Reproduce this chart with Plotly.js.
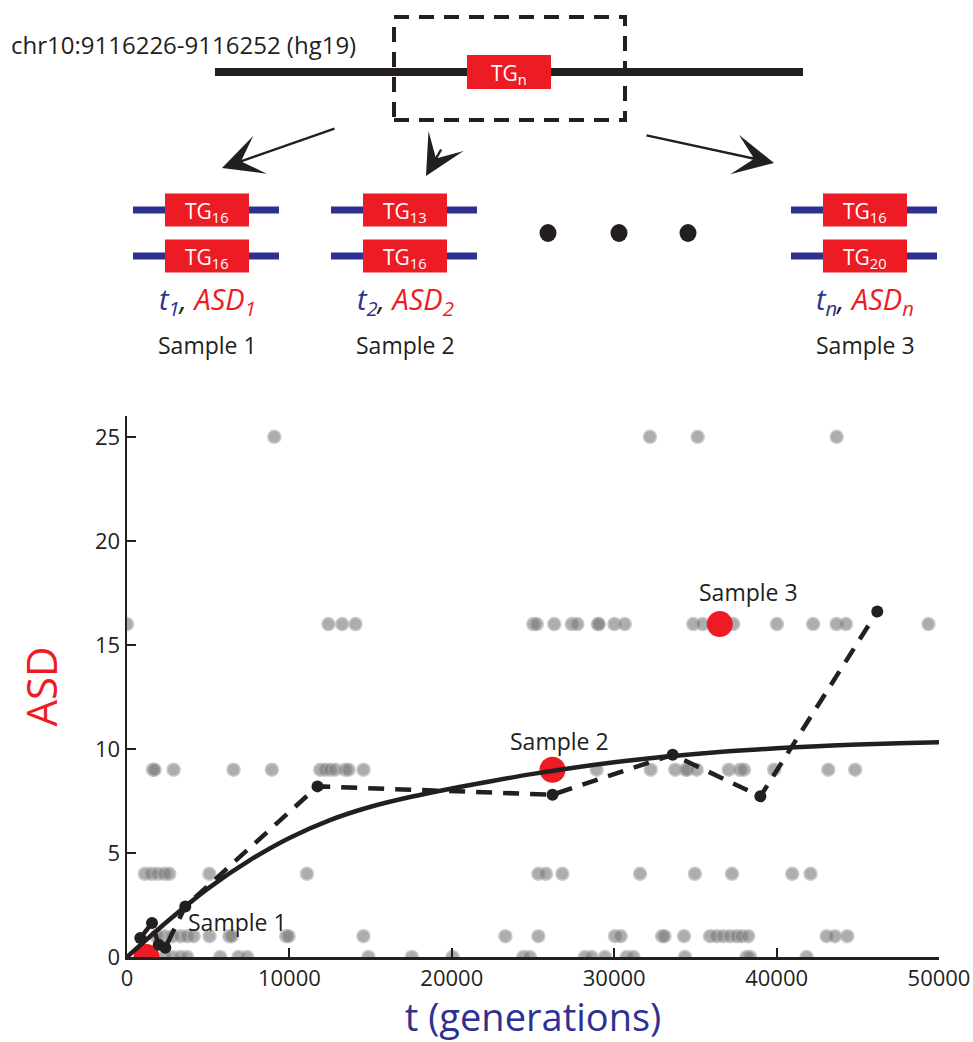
<!DOCTYPE html>
<html>
<head>
<meta charset="utf-8">
<script src="https://cdn.plot.ly/plotly-3.0.1.min.js"></script>
<style>html,body{margin:0;padding:0;background:#fff;}#chart{width:973px;height:1042px;}</style>
</head>
<body>
<div id="chart"></div>
<script>
// ---------------- data ----------------
const xTickVals = [0, 10000, 20000, 30000, 40000, 50000];
const yTickVals = [0, 5, 10, 15, 20, 25];

// observed samples (gray), grouped by ASD level
const asdLevels = [0, 1, 4, 9, 16, 25];
const tAtASD0 = [2300, 2800, 3300, 3700, 5740, 6870, 7390, 14870, 17540, 20050, 24400, 24800, 28200, 28610, 29430, 30770, 31180, 34360, 38150, 38360, 41850];
const tAtASD1 = [1800, 2300, 2800, 3300, 3700, 4100, 5080, 6300, 6450, 9800, 9950, 14560, 23300, 25330, 30050, 30400, 32950, 33100, 34300, 35900, 36300, 36700, 37130, 37540, 37850, 38250, 43080, 43590, 44350];
const tAtASD4 = [1100, 1500, 1900, 2300, 2600, 5070, 11080, 25330, 25800, 26810, 31590, 34970, 37250, 40960, 42090];
const tAtASD9 = [1600, 1700, 2870, 6560, 8920, 11900, 12200, 12510, 12820, 13430, 13640, 14560, 28920, 32250, 33760, 34400, 34500, 35080, 37050, 37740, 37990, 39850, 43180, 44840];
const tAtASD16 = [0, 12400, 13250, 14070, 25020, 25230, 26310, 27390, 27730, 29000, 29050, 30010, 30650, 34870, 35450, 37330, 40020, 42250, 43690, 44270, 49350];
const tAtASD25 = [9070, 32200, 35140, 43700];

// fitted curve (solid)
const fitT   = [0, 2500, 5000, 7500, 10000, 12500, 15000, 17500, 20000, 22500, 25000, 27500, 30000, 32500, 35000, 37500, 40000, 42500, 45000, 47500, 50000];
const fitASD = [0, 1.72, 3.3, 4.62, 5.72, 6.58, 7.22, 7.7, 8.1, 8.46, 8.8, 9.1, 9.36, 9.58, 9.76, 9.91, 10.03, 10.13, 10.21, 10.27, 10.32];

// binned means (dashed with dots)
const binT   = [820, 1540, 1950, 2360, 3590, 11730, 26200, 33600, 39000, 46200];
const binASD = [0.91, 1.63, 0.59, 0.45, 2.43, 8.2, 7.8, 9.72, 7.72, 16.6];

// highlighted samples
const sampleLabels = ['Sample 1', 'Sample 2', 'Sample 3'];
const sampleT   = [1200, 26200, 36500];
const sampleASD = [0, 9, 16];

// schematic genotypes
const sampleAlleles = [['16', '16'], ['13', '16'], ['16', '20']];
const sampleSubs = ['1', '2', 'n'];
const locusLabel = 'chr10:9116226-9116252 (hg19)';

// ---------------- build ----------------
const INK = '#231f20', RED = '#ed1c24', BLUE = '#2e3192';
const FONT = 'Open Sans, sans-serif';
const ML = 127, MR = 34, MT = 416, MB = 85, W = 973, H = 1042;
const PW = W - ML - MR, PH = H - MT - MB;
const P = px => (px - ML) / PW;           // pixel x -> paper x
const Q = py => (H - MB - py) / PH;       // pixel y -> paper y

const grayT = [], grayA = [];
const groups = [tAtASD0, tAtASD1, tAtASD4, tAtASD9, tAtASD16, tAtASD25];
groups.forEach((arr, i) => arr.forEach(t => { grayT.push(t); grayA.push(asdLevels[i]); }));

const traces = [
  { x: grayT, y: grayA, type: 'scatter', mode: 'markers', hoverinfo: 'skip',
    marker: { size: 13, color: '#77787b', opacity: 0.6, line: { color: '#a7a9ac', width: 1.5 } } },
  { x: sampleT, y: sampleASD, type: 'scatter', mode: 'markers',
    marker: { size: 26, color: RED, line: { width: 0 } } },
  { x: fitT, y: fitASD, type: 'scatter', mode: 'lines',
    line: { color: INK, width: 4.5, shape: 'spline', smoothing: 1 } },
  { x: binT, y: binASD, type: 'scatter', mode: 'lines+markers',
    line: { color: INK, width: 4.5, dash: '16px,11px' },
    marker: { size: 12, color: INK } }
];

const shapes = [];
const annotations = [];
const txt = (px, py, text, size, color, extra) => Object.assign({
  xref: 'paper', yref: 'paper', x: P(px), y: Q(py), text: text, showarrow: false,
  xanchor: 'center', yanchor: 'middle', font: { family: FONT, size: size, color: color }
}, extra || {});

// main locus line and TGn box
shapes.push({ type: 'line', xref: 'paper', yref: 'paper', x0: P(215), x1: P(803), y0: Q(72), y1: Q(72), line: { color: INK, width: 8 } });
shapes.push({ type: 'rect', xref: 'paper', yref: 'paper', x0: P(467), x1: P(551), y0: Q(89), y1: Q(55), fillcolor: RED, line: { width: 0 } });
shapes.push({ type: 'rect', xref: 'paper', yref: 'paper', x0: P(394), x1: P(625), y0: Q(120), y1: Q(17), line: { color: INK, width: 4, dash: '15px,10px' } });
annotations.push(txt(509, 74, 'TG<sub>n</sub>', 21, '#fff'));
annotations.push(txt(9, 44, locusLabel, 24, INK, { xanchor: 'left' }));

// arrows
[[336, 128, 222, 168], [442, 148, 426, 176], [645, 135, 774, 163]].forEach(a => {
  annotations.push({ xref: 'paper', yref: 'paper', x: P(a[2]), y: Q(a[3]), ax: a[0] - a[2], ay: a[1] - a[3],
    axref: 'pixel', ayref: 'pixel', xanchor: 'center', yanchor: 'middle',
    text: '', showarrow: true, arrowhead: 3, arrowsize: 2.8, arrowwidth: 2.4, arrowcolor: INK });
});

// dots
[548, 619, 688].forEach(cx => {
  shapes.push({ type: 'circle', xref: 'paper', yref: 'paper', x0: P(cx - 8.5), x1: P(cx + 8.5), y0: Q(233 + 9), y1: Q(233 - 9), fillcolor: INK, line: { width: 0 } });
});

// sample genotypes
const centers = [207, 405, 865];
centers.forEach((cx, i) => {
  [210, 256].forEach((ly, j) => {
    shapes.push({ type: 'line', xref: 'paper', yref: 'paper', x0: P(cx - 74), x1: P(cx + 72), y0: Q(ly), y1: Q(ly), line: { color: BLUE, width: 7 } });
    shapes.push({ type: 'rect', xref: 'paper', yref: 'paper', x0: P(cx - 42), x1: P(cx + 42), y0: Q(ly + 16.5), y1: Q(ly - 16.5), fillcolor: RED, line: { width: 0 } });
    annotations.push(txt(cx, ly + 2, 'TG<sub>' + sampleAlleles[i][j] + '</sub>', 21, '#fff'));
  });
  const s = sampleSubs[i];
  annotations.push(txt(cx, 300,
    '<i><span style="color:' + BLUE + '">t<sub>' + s + '</sub></span>, <span style="color:' + RED + '">ASD<sub>' + s + '</sub></span></i>',
    29, INK));
  annotations.push(txt(cx, 345, sampleLabels[i], 23, INK));
});

// sample labels in plot
const labelPos = [[6790, 1.7], [26630, 10.37], [38290, 17.56]];
sampleLabels.forEach((lab, i) => {
  annotations.push({ xref: 'x', yref: 'y', x: labelPos[i][0], y: labelPos[i][1], text: lab, showarrow: false,
    xanchor: 'center', yanchor: 'middle', font: { family: FONT, size: 23, color: INK } });
});

const axisCommon = {
  showline: true, linecolor: INK, linewidth: 2.5, ticks: 'inside', ticklen: 9, tickwidth: 2, tickcolor: INK,
  showgrid: false, zeroline: false, tickfont: { family: FONT, size: 22, color: INK }, fixedrange: true,
  automargin: false, ticklabeloverflow: 'allow'
};

const layout = {
  width: W, height: H,
  margin: { l: ML, r: MR, t: MT, b: MB },
  paper_bgcolor: '#fff', plot_bgcolor: '#fff',
  showlegend: false,
  xaxis: Object.assign({}, axisCommon, { range: [0, 50000], tickvals: xTickVals, ticktext: xTickVals.map(String),
    title: { text: 't (generations)', font: { family: FONT, size: 38, color: BLUE }, standoff: 6 } }),
  yaxis: Object.assign({}, axisCommon, { range: [0, 26], tickvals: yTickVals, ticktext: yTickVals.map(String),
    title: { text: 'ASD', font: { family: FONT, size: 42, color: RED }, standoff: 24 } }),
  shapes: shapes,
  annotations: annotations
};

Plotly.newPlot('chart', traces, layout, { displayModeBar: false, staticPlot: true });
</script>
</body>
</html>
